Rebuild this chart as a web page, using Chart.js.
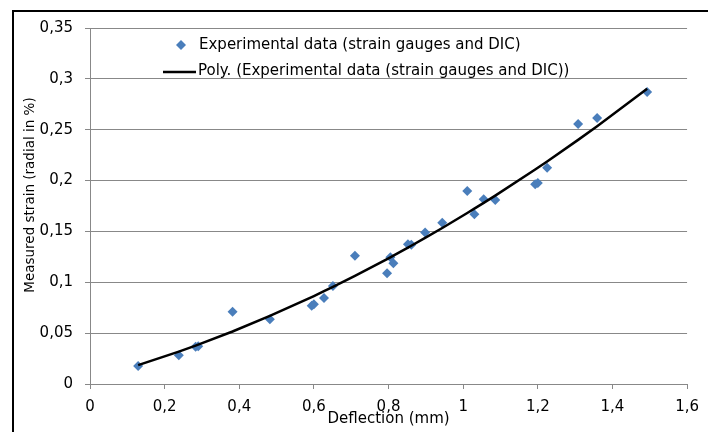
<!DOCTYPE html>
<html>
<head>
<meta charset="utf-8">
<script src="https://cdn.jsdelivr.net/npm/chart.js@4/dist/chart.umd.min.js"></script>
<style>
  body { margin: 0; background: #fff; }
  #wrap { position: relative; width: 708px; height: 432px; overflow: hidden; }
  #frame { position: absolute; left: 12px; top: 10px; width: 710px; height: 440px;
           border-left: 2px solid #000; border-top: 2px solid #000; }
  canvas { position: absolute; left: 0; top: 0; }
</style>
</head>
<body>
<div id="wrap">
  <div id="frame"></div>
  <canvas id="chart" width="708" height="432"></canvas>
</div>
<script>
// Measured points (deflection in mm, radial strain in %)
const deflection = [0.129, 0.238, 0.283, 0.290, 0.382, 0.482, 0.594, 0.600, 0.627, 0.651,
                    0.710, 0.796, 0.805, 0.813, 0.852, 0.861, 0.898, 0.944, 1.011, 1.030,
                    1.055, 1.086, 1.193, 1.200, 1.225, 1.308, 1.359, 1.493];
const strain = [0.0177, 0.0282, 0.0365, 0.0370, 0.0710, 0.0636, 0.0770, 0.0785, 0.0846, 0.0964,
                0.1260, 0.1088, 0.1246, 0.1187, 0.1373, 0.1370, 0.1490, 0.1586, 0.1898, 0.1668,
                0.1816, 0.1810, 0.1965, 0.1975, 0.2127, 0.2556, 0.2616, 0.2870];
const xTickValues = [0, 0.2, 0.4, 0.6, 0.8, 1, 1.2, 1.4, 1.6];
const yTickValues = [0, 0.05, 0.1, 0.15, 0.2, 0.25, 0.3, 0.35];

const seriesLabel = 'Experimental data (strain gauges and DIC)';
const trendLabel = 'Poly. (Experimental data (strain gauges and DIC))';

// 2nd order least squares fit, like the spreadsheet trendline
function polyFit2(xs, ys) {
    const s = [0, 0, 0, 0, 0], t = [0, 0, 0];
    xs.forEach((x, i) => {
        for (let k = 0; k < 5; k++) s[k] += Math.pow(x, k);
        for (let k = 0; k < 3; k++) t[k] += ys[i] * Math.pow(x, k);
    });
    const m = [[s[0], s[1], s[2], t[0]], [s[1], s[2], s[3], t[1]], [s[2], s[3], s[4], t[2]]];
    for (let i = 0; i < 3; i++) {
        for (let j = i + 1; j < 3; j++) {
            const f = m[j][i] / m[i][i];
            for (let k = i; k < 4; k++) m[j][k] -= f * m[i][k];
        }
    }
    const c = [0, 0, 0];
    for (let i = 2; i >= 0; i--) {
        let v = m[i][3];
        for (let k = i + 1; k < 3; k++) v -= m[i][k] * c[k];
        c[i] = v / m[i][i];
    }
    return c;
}
const coef = polyFit2(deflection, strain);
const points = deflection.map((x, i) => ({ x: x, y: strain[i] }));
const trend = deflection.map(x => ({ x: x, y: coef[0] + coef[1] * x + coef[2] * x * x }));

const FONT = "'DejaVu Sans', sans-serif";
const fmt = v => String(Number(v.toFixed(2))).replace('.', ',');

// legend inside the plot + rotated y title
const extras = {
    id: 'extras',
    afterDraw(chart) {
        const ctx = chart.ctx;
        const ds = chart.data.datasets;
        ctx.save();
        ctx.font = '15px ' + FONT;
        ctx.textBaseline = 'middle';
        // diamond
        ctx.fillStyle = ds[0].backgroundColor;
        ctx.beginPath();
        ctx.moveTo(181, 40); ctx.lineTo(186, 45); ctx.lineTo(181, 50); ctx.lineTo(176, 45);
        ctx.closePath(); ctx.fill();
        ctx.fillStyle = '#000';
        ctx.fillText(ds[0].label, 199, 45);
        // line
        ctx.strokeStyle = ds[1].borderColor;
        ctx.lineWidth = 2.5;
        ctx.beginPath(); ctx.moveTo(163, 72); ctx.lineTo(196, 72); ctx.stroke();
        ctx.fillText(ds[1].label, 198, 71);
        // y title
        ctx.font = '13.5px ' + FONT;
        ctx.translate(30, 195);
        ctx.rotate(-Math.PI / 2);
        ctx.textAlign = 'center';
        ctx.fillText('Measured strain (radial in %)', 0, 0);
        ctx.restore();
    }
};

new Chart(document.getElementById('chart').getContext('2d'), {
    type: 'scatter',
    data: {
        datasets: [{
            label: seriesLabel,
            data: points,
            backgroundColor: '#4A7EBB',
            borderColor: '#4A7EBB',
            pointStyle: 'rectRot',
            pointRadius: 5,
            borderWidth: 0,
            order: 1,
        }, {
            label: trendLabel,
            data: trend,
            showLine: true,
            borderColor: '#000',
            borderWidth: 2.5,
            pointRadius: 0,
            fill: false,
            order: 0,
        }],
    },
    options: {
        responsive: false,
        animation: false,
        layout: { padding: { top: 28, right: 20, left: 0, bottom: 0 } },
        plugins: {
            legend: { display: false },
            tooltip: { enabled: false },
        },
        scales: {
            x: {
                min: 0, max: 1.6,
                afterFit: s => { s.height = 48; },
                afterBuildTicks: s => { s.ticks = xTickValues.map(v => ({ value: v })); },
                grid: { drawOnChartArea: false, color: '#888', tickLength: 5 },
                border: { color: '#888' },
                ticks: { color: '#000', font: { family: FONT, size: 15 }, padding: 9, maxRotation: 0, callback: v => fmt(v) },
                title: { display: true, text: 'Deflection (mm)', color: '#000', font: { family: FONT, size: 15 }, padding: { top: 0, bottom: 4 } },
            },
            y: {
                min: 0, max: 0.35,
                afterFit: s => { s.width = 90; },
                afterBuildTicks: s => { s.ticks = yTickValues.map(v => ({ value: v })); },
                grid: { color: '#888', tickLength: 5 },
                border: { color: '#888' },
                ticks: { color: '#000', font: { family: FONT, size: 15 }, padding: 12, callback: v => fmt(v) },
            },
        },
    },
    plugins: [extras],
});
</script>
</body>
</html>
